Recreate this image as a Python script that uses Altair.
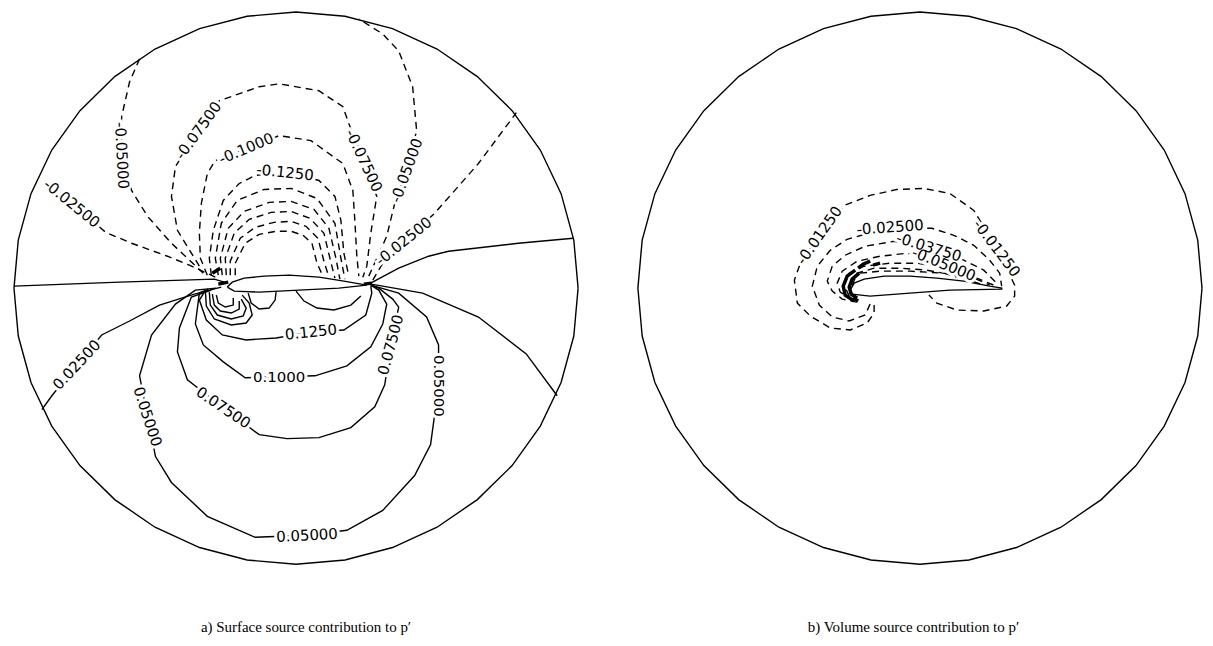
import altair as alt
import numpy as np
import pandas as pd

# Coordinates: x to the right, y upward, origin at the centre of each far-field circle.

# ---------------- panel a) surface source contribution ----------------
A_AIRFOIL = [(-69,1),(-64,6),(-52,10),(-32,12),(-7,13),(23,11),(48,7),(71,3),(43,0),(3,-2),(-37,-4),(-62,-3),(-69,1)]

# solid contours (zero and positive levels)
A_ZERO_W = [(-283,2),(-177,6),(-82,9),(-72,6)]
A_ZERO_E = [(73,4),(103,20),(133,32),(153,37),(223,45),(278,50)]
A_P0250_W = [(-75,1),(-102,-6),(-137,-17),(-167,-33),(-195,-47),(-220,-77),(-245,-108),(-255,-122)]
A_P0250_E = [(75,4),(87,2),(127,-5),(183,-29),(231,-66),(262,-108)]
A_P0500 = [(-80,0),(-101,-2),(-121,-16),(-145,-47),(-157,-88),(-149,-129),(-141,-169),(-125,-195),(-89,-229),(-41,-250),(11,-248),(51,-243),(87,-223),(119,-188),(135,-157),(143,-98),(143,-57),(131,-29),(103,-5),(75,3)]
A_P0750 = [(-85,-2),(-105,-9),(-117,-40),(-119,-64),(-109,-92),(-73,-120),(-37,-147),(-9,-151),(23,-150),(55,-140),(79,-119),(89,-97),(95,-57),(103,-19),(97,-11),(83,0),(75,3)]
A_P1000 = [(-88,-1),(-97,-5),(-101,-36),(-93,-57),(-73,-74),(-51,-90),(-17,-89),(19,-88),(51,-78),(75,-59),(87,-36),(91,-16),(83,-2),(75,3)]
A_P1250 = [(-92,-4),(-97,-12),(-90,-32),(-74,-47),(-50,-52),(-20,-50),(15,-44),(48,-42),(70,-27),(76,-5),(75,2)]
A_LOOP1 = [(-91,-2),(-90,-18),(-82,-31),(-65,-37),(-50,-35),(-44,-27),(-47,-15),(-54,-7)]
A_LOOP2 = [(-87,-4),(-86,-17),(-79,-27),(-65,-31),(-53,-28),(-50,-20),(-55,-11)]
A_LOOP3 = [(-84,-6),(-82,-17),(-76,-23),(-65,-25),(-57,-21),(-57,-13)]
A_LOOP4 = [(-80,-7),(-78,-15),(-71,-19),(-63,-17),(-63,-10)]
A_LOBE1 = [(-48,-5),(-45,-15),(-37,-21),(-27,-20),(-21,-12),(-20,-4)]
A_LOBE2 = [(0,-3),(8,-13),(21,-20),(38,-22),(55,-17),(65,-8)]

# dashed contours (negative levels)
A_N0250_W = [(-81,11),(-107,23),(-129,32),(-165,45),(-191,56),(-225,85)]
A_N0250_E = [(77,8),(87,25),(108,47),(139,75),(183,125),(221,176)]
A_N0500_W = [(-93,15),(-125,45),(-149,72),(-165,98),(-175,133),(-175,172),(-167,207),(-157,230)]
A_N0500_E = [(73,12),(91,52),(99,85),(111,118),(121,158),(117,202),(103,238),(87,255),(63,270)]
A_N0750 = [(-97,22),(-119,58),(-125,92),(-121,122),(-98,158),(-77,188),(-37,202),(-17,205),(23,198),(47,182),(53,165),(68,128),(81,92),(75,55),(71,22),(67,11)]
A_N1000 = [(-89,13),(-96,30),(-97,55),(-95,85),(-89,115),(-81,128),(-50,140),(-17,153),(15,148),(47,125),(57,98),(59,68),(61,32),(63,12)]
A_N1250 = [(-85,13),(-87,30),(-83,58),(-73,88),(-57,105),(-41,113),(-11,117),(23,108),(39,92),(45,68),(48,35),(53,12)]
A_N1500 = [(-78,13),(-81,30),(-75,65),(-59,88),(-32,99),(-5,100),(21,90),(39,65),(45,30),(49,9)]
A_N1750 = [(-74,13),(-76,30),(-68,60),(-52,77),(-27,86),(-5,87),(18,79),(33,60),(40,30),(44,9)]
A_N2000 = [(-70,13),(-71,30),(-62,55),(-47,69),(-25,76),(-5,77),(14,70),(28,55),(34,30),(39,10)]
A_N2250 = [(-66,13),(-66,27),(-56,50),(-41,61),(-22,66),(-5,67),(10,62),(22,50),(28,27),(33,11)]
A_N2500 = [(-61,13),(-61,25),(-51,45),(-37,54),(-20,57),(-5,57),(7,53),(16,45),(21,25),(27,12)]

# dense clusters at leading / trailing edge
A_THICK = [[(-84,15),(-76,20)], [(-78,4),(-68,6)], [(68,4),(76,5)]]

A_LABEL_TEXT = ["-0.02500","-0.05000","-0.07500","-0.1000","-0.1250","-0.07500","-0.05000","-0.02500",
                "0.1250","0.1000","0.07500","0.07500","0.05000","0.05000","0.05000","0.02500"]
A_LABEL_X = [-225,-175,-98,-50,-11,68,111,108, 15,-17,-73,95,-149,11,143,-220]
A_LABEL_Y = [85,133,158,140,116,128,118,47, -44,-89,-120,-57,-129,-248,-98,-77]
A_LABEL_ANGLE = [39,87,-54,-23,6,65,-70,-39, -6,0,34,-75,72,-3,90,-47]

# ---------------- panel b) volume source contribution ----------------
B_AIRFOIL = [(-70,-2),(-66,5),(-56,9),(-36,12),(-10,12),(17,10),(44,7),(70,2),(82,0),(82,-1),(30,-2),(-10,-5),(-50,-8),(-68,-6),(-70,-2)]

B_N0125 = [(-46,-17),(-46,-25),(-53,-35),(-70,-42),(-90,-40),(-110,-28),(-123,-15),(-126,8),(-120,25),(-101,53),(-76,83),(-50,93),(-23,99),(4,100),(30,95),(54,78),(77,40),(95,3),(95,-8),(87,-18),(64,-23),(37,-22),(17,-15),(9,-7)]
B_N0250 = [(-50,-16),(-55,-27),(-71,-33),(-88,-29),(-101,-17),(-108,2),(-103,22),(-90,38),(-73,49),(-30,61),(12,60),(34,53),(54,43),(70,28),(80,15),(82,2)]
B_N0375 = [(-63,-14),(-78,-11),(-88,-3),(-93,7),(-88,22),(-75,33),(-55,42),(-26,47),(9,41),(44,28),(64,18),(77,5)]
B_N0500 = [(-67,-12),(-80,-4),(-83,5),(-78,17),(-63,27),(-40,32),(-13,35),(24,24),(57,10),(74,3)]
B_N0625 = [(-71,-8),(-76,3),(-71,15),(-56,22),(-30,25),(-3,25),(24,20),(50,12),(70,3)]
B_N0750 = [(-68,3),(-63,15),(-46,20),(-20,20),(7,18),(34,13),(64,3)]
B_N0875 = [(-60,15),(-40,17),(-10,17),(24,15),(57,5)]

B_THICK = [[(-65,18),(-73,12),(-77,2),(-75,-7),(-66,-13)],
           [(-61,15),(-68,9),(-71,1),(-69,-6),(-63,-10)],
           [(-62,20),(-57,24),(-50,27)],
           [(-47,23),(-40,25)],
           [(-67,-10),(-62,-13)]]

B_LABEL_TEXT = ["-0.01250","-0.01250","-0.02500","-0.03750","-0.05000"]
B_LABEL_X = [-101,77,-30,9,24]
B_LABEL_Y = [53,40,61,41,24]
B_LABEL_ANGLE = [-55,53,-4,17,22]

# far-field boundary: 36-sided polygon
BOUNDARY_RX = 283
BOUNDARY_RY = 277
BOUNDARY_SIDES = 36


def curve_rows(kind, name, pts):
    return [dict(kind=kind, cid=name, i=k, x=p[0], y=p[1]) for k, p in enumerate(pts)]


def boundary_rows():
    ang = np.linspace(0, 2 * np.pi, BOUNDARY_SIDES + 1)
    pts = list(zip(BOUNDARY_RX * np.cos(ang), BOUNDARY_RY * np.sin(ang)))
    return curve_rows("boundary", "boundary", pts)


a_rows = boundary_rows() + curve_rows("airfoil", "af", A_AIRFOIL)
for nm, pts in [("zw", A_ZERO_W), ("ze", A_ZERO_E), ("p25w", A_P0250_W), ("p25e", A_P0250_E),
                ("p50", A_P0500), ("p75", A_P0750), ("p100", A_P1000), ("p125", A_P1250),
                ("l1", A_LOOP1), ("l2", A_LOOP2), ("l3", A_LOOP3), ("l4", A_LOOP4),
                ("b1", A_LOBE1), ("b2", A_LOBE2)]:
    a_rows += curve_rows("solid", nm, pts)
for nm, pts in [("n25w", A_N0250_W), ("n25e", A_N0250_E), ("n50w", A_N0500_W), ("n50e", A_N0500_E),
                ("n75", A_N0750), ("n100", A_N1000), ("n125", A_N1250), ("n150", A_N1500),
                ("n175", A_N1750), ("n200", A_N2000), ("n225", A_N2250), ("n250", A_N2500)]:
    a_rows += curve_rows("dashed", nm, pts)
for k, pts in enumerate(A_THICK):
    a_rows += curve_rows("thick", f"t{k}", pts)
a_df = pd.DataFrame(a_rows)
a_lab = pd.DataFrame(dict(text=A_LABEL_TEXT, x=A_LABEL_X, y=A_LABEL_Y, angle=A_LABEL_ANGLE))

b_rows = boundary_rows() + curve_rows("airfoil", "af", B_AIRFOIL)
for nm, pts in [("n0125", B_N0125), ("n0250", B_N0250), ("n0375", B_N0375), ("n0500", B_N0500),
                ("n0625", B_N0625), ("n0750", B_N0750), ("n0875", B_N0875)]:
    b_rows += curve_rows("dashed", nm, pts)
for k, pts in enumerate(B_THICK):
    b_rows += curve_rows("thick", f"t{k}", pts)
b_df = pd.DataFrame(b_rows)
b_lab = pd.DataFrame(dict(text=B_LABEL_TEXT, x=B_LABEL_X, y=B_LABEL_Y, angle=B_LABEL_ANGLE))


def panel(df, lab, xdom, ydom, width, height, caption, dx):
    X = alt.X("x:Q", scale=alt.Scale(domain=xdom, nice=False, zero=False), axis=None)
    Y = alt.Y("y:Q", scale=alt.Scale(domain=ydom, nice=False, zero=False), axis=None)
    base = alt.Chart(df)
    enc = dict(x=X, y=Y, order=alt.Order("i:Q"), detail="cid:N")
    solid = base.transform_filter("datum.kind == 'solid' || datum.kind == 'boundary' || datum.kind == 'airfoil'").mark_line(
        color="black", strokeWidth=1.4).encode(**enc)
    dashed = base.transform_filter("datum.kind == 'dashed'").mark_line(
        color="black", strokeWidth=1.4, strokeDash=[7, 5]).encode(**enc)
    thick = base.transform_filter("datum.kind == 'thick'").mark_line(
        color="black", strokeWidth=3.5).encode(**enc)
    tenc = dict(x=X, y=Y, text="text:N", angle=alt.Angle("angle:Q", scale=None))
    halo = alt.Chart(lab).mark_text(font="DejaVu Sans", fontSize=15, color="white",
                                     stroke="white", strokeWidth=6).encode(**tenc)
    txt = alt.Chart(lab).mark_text(font="DejaVu Sans", fontSize=15, color="black").encode(**tenc)
    return alt.layer(solid, dashed, thick, halo, txt).properties(
        width=width, height=height,
        title=alt.TitleParams(text=caption, orient="bottom", anchor="middle", font="Liberation Serif",
                              fontSize=15, fontWeight="normal", color="black", offset=40, dx=dx))


left = panel(a_df, a_lab, [-289, 323], [-293, 277], 612, 570,
             "a) Surface source contribution to p\u2032", -7)
right = panel(b_df, b_lab, [-303, 282], [-293, 277], 585, 570,
              "b) Volume source contribution to p\u2032", 4)

chart = alt.hconcat(left, right, spacing=0).properties(padding=0).configure_view(stroke=None)
chart.save("out.html", embed_options={"renderer": "svg", "actions": False})
